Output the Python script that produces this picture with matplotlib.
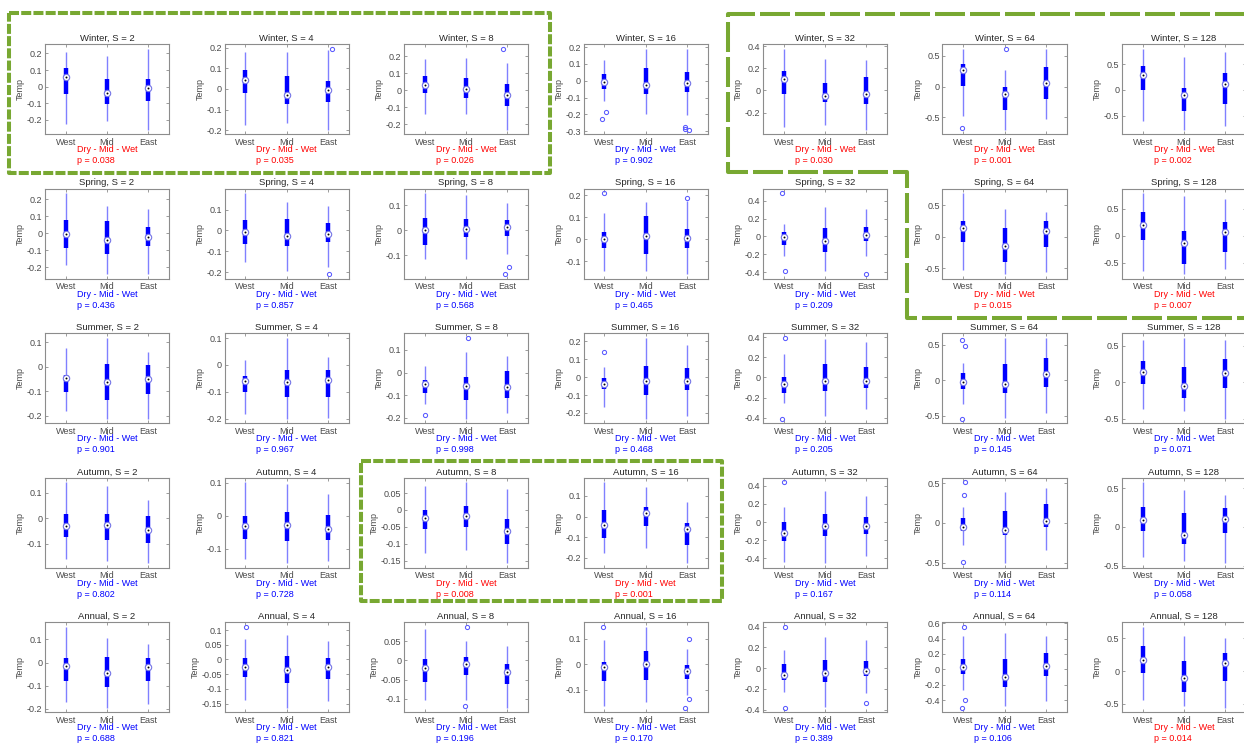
import matplotlib
matplotlib.use("Agg")
import matplotlib.pyplot as plt
from matplotlib.lines import Line2D
from matplotlib.ticker import MultipleLocator, FuncFormatter

plt.rcParams["font.family"] = ["Liberation Sans", "DejaVu Sans"]
plt.rcParams["axes.unicode_minus"] = False
plt.rcParams["lines.scale_dashes"] = False

seasons = ["Winter", "Spring", "Summer", "Autumn", "Annual"]
scales = [2, 4, 8, 16, 32, 64, 128]
regions = ["West", "Mid", "East"]

# (whisker low, q1, median, q3, whisker high) for West, Mid, East, one entry per S
winter_stats = [
    [(-0.224, -0.044, 0.056, 0.114, 0.21), (-0.204, -0.106, -0.036, 0.044, 0.184), (-0.26, -0.088, -0.01, 0.048, 0.228)],
    [(-0.173, -0.018, 0.042, 0.09, 0.177), (-0.165, -0.073, -0.027, 0.065, 0.177), (-0.198, -0.061, -0.006, 0.039, 0.187)],
    [(-0.14, -0.016, 0.033, 0.083, 0.18), (-0.14, -0.045, 0.004, 0.07, 0.19), (-0.233, -0.093, -0.031, 0.035, 0.161)],
    [(-0.121, -0.05, -0.008, 0.042, 0.122), (-0.196, -0.078, -0.023, 0.076, 0.19), (-0.206, -0.07, -0.014, 0.05, 0.186)],
    [(-0.325, -0.033, 0.099, 0.173, 0.376), (-0.313, -0.1, -0.051, 0.069, 0.284), (-0.355, -0.122, -0.036, 0.125, 0.272)],
    [(-0.468, 0.005, 0.263, 0.36, 0.613), (-0.7, -0.376, -0.113, -0.011, 0.263), (-0.527, -0.204, 0.059, 0.317, 0.608)],
    [(-0.597, -0.006, 0.286, 0.474, 0.805), (-0.779, -0.409, -0.104, 0.032, 0.636), (-0.701, -0.273, 0.11, 0.338, 0.74)],
]
spring_stats = [
    [(-0.187, -0.085, -0.004, 0.077, 0.234), (-0.24, -0.123, -0.038, 0.072, 0.162), (-0.24, -0.074, -0.023, 0.038, 0.143)],
    [(-0.152, -0.066, -0.01, 0.048, 0.178), (-0.193, -0.074, -0.026, 0.053, 0.135), (-0.175, -0.057, -0.019, 0.037, 0.115)],
    [(-0.115, -0.058, 0.0, 0.05, 0.149), (-0.115, -0.028, 0.003, 0.047, 0.14), (-0.096, -0.025, 0.012, 0.041, 0.111)],
    [(-0.147, -0.04, 0.0, 0.031, 0.119), (-0.147, -0.069, 0.017, 0.107, 0.169), (-0.16, -0.04, 0.005, 0.046, 0.175)],
    [(-0.223, -0.093, -0.012, 0.049, 0.142), (-0.385, -0.17, -0.057, 0.089, 0.329), (-0.219, -0.057, 0.016, 0.105, 0.306)],
    [(-0.531, -0.08, 0.131, 0.251, 0.686), (-0.594, -0.4, -0.149, 0.143, 0.434), (-0.56, -0.16, 0.091, 0.251, 0.383)],
    [(-0.651, -0.087, 0.201, 0.43, 0.785), (-0.718, -0.523, -0.141, 0.094, 0.725), (-0.624, -0.295, 0.074, 0.255, 0.671)],
]
summer_stats = [
    [(-0.179, -0.104, -0.045, -0.033, 0.076), (-0.212, -0.136, -0.06, 0.012, 0.119), (-0.212, -0.11, -0.051, 0.006, 0.06)],
    [(-0.182, -0.1, -0.059, -0.04, 0.02), (-0.2, -0.118, -0.063, -0.017, 0.101), (-0.197, -0.118, -0.055, -0.02, 0.028)],
    [(-0.141, -0.089, -0.051, -0.031, 0.029), (-0.205, -0.122, -0.059, -0.018, 0.092), (-0.178, -0.112, -0.064, 0.008, 0.075)],
    [(-0.165, -0.069, -0.039, -0.004, 0.059), (-0.233, -0.098, -0.024, 0.061, 0.22), (-0.216, -0.071, -0.02, 0.053, 0.182)],
    [(-0.249, -0.151, -0.068, 0.004, 0.234), (-0.382, -0.133, -0.032, 0.137, 0.382), (-0.31, -0.105, -0.04, 0.108, 0.35)],
    [(-0.332, -0.128, -0.031, 0.102, 0.245), (-0.536, -0.184, -0.061, 0.224, 0.597), (-0.469, -0.092, 0.082, 0.311, 0.597)],
    [(-0.362, -0.025, 0.141, 0.291, 0.583), (-0.397, -0.216, -0.055, 0.216, 0.613), (-0.5, -0.07, 0.131, 0.317, 0.578)],
]
autumn_stats = [
    [(-0.16, -0.072, -0.029, 0.016, 0.141), (-0.168, -0.085, -0.026, 0.016, 0.125), (-0.177, -0.096, -0.047, 0.01, 0.072)],
    [(-0.131, -0.071, -0.031, -0.002, 0.102), (-0.145, -0.076, -0.027, 0.011, 0.097), (-0.137, -0.073, -0.04, 0.001, 0.067)],
    [(-0.128, -0.056, -0.025, -0.001, 0.072), (-0.119, -0.05, -0.017, 0.011, 0.082), (-0.158, -0.1, -0.061, -0.028, 0.062)],
    [(-0.175, -0.102, -0.041, 0.034, 0.166), (-0.152, -0.044, 0.019, 0.046, 0.145), (-0.226, -0.136, -0.058, -0.03, 0.069)],
    [(-0.44, -0.212, -0.124, 0.004, 0.172), (-0.456, -0.152, -0.044, 0.084, 0.348), (-0.38, -0.132, -0.044, 0.052, 0.292)],
    [(-0.279, -0.105, -0.05, 0.068, 0.196), (-0.507, -0.155, -0.087, 0.146, 0.388), (-0.342, -0.05, 0.023, 0.237, 0.438)],
    [(-0.384, -0.056, 0.088, 0.264, 0.579), (-0.444, -0.222, -0.102, 0.181, 0.481), (-0.472, -0.079, 0.097, 0.25, 0.412)],
]
annual_stats = [
    [(-0.172, -0.078, -0.017, 0.02, 0.155), (-0.196, -0.107, -0.044, 0.024, 0.107), (-0.179, -0.081, -0.02, 0.02, 0.08)],
    [(-0.138, -0.061, -0.025, 0.006, 0.07), (-0.164, -0.08, -0.035, 0.011, 0.083), (-0.14, -0.067, -0.024, 0.006, 0.063)],
    [(-0.102, -0.055, -0.021, 0.003, 0.081), (-0.103, -0.039, -0.01, 0.008, 0.05), (-0.123, -0.061, -0.031, -0.01, 0.036)],
    [(-0.165, -0.067, -0.012, 0.01, 0.094), (-0.15, -0.062, 0.0, 0.05, 0.147), (-0.119, -0.057, -0.028, -0.004, 0.058)],
    [(-0.227, -0.111, -0.066, 0.044, 0.177), (-0.373, -0.133, -0.047, 0.082, 0.3), (-0.243, -0.079, -0.022, 0.066, 0.275)],
    [(-0.262, -0.055, 0.03, 0.14, 0.435), (-0.474, -0.224, -0.093, 0.14, 0.469), (-0.41, -0.08, 0.047, 0.215, 0.431)],
    [(-0.45, -0.035, 0.165, 0.38, 0.68), (-0.53, -0.325, -0.1, 0.155, 0.54), (-0.565, -0.15, 0.125, 0.275, 0.51)],
]

# outliers: (value, small horizontal jitter) per region
winter_out = [
    [[], [], []],
    [[], [], [(0.195, 0.1)]],
    [[], [], [(0.243, -0.1)]],
    [[(-0.227, -0.05), (-0.185, 0.05)], [], [(-0.274, -0.05), (-0.287, -0.05), (-0.292, 0.06)]],
    [[], [], []],
    [[(-0.672, -0.04)], [(0.613, 0.03)], []],
    [[], [], []],
]
spring_out = [
    [[], [], []],
    [[], [], [(-0.211, 0.04)]],
    [[], [], [(-0.178, -0.05), (-0.149, 0.05)]],
    [[(0.21, 0.0)], [], [(0.188, 0.0)]],
    [[(0.483, -0.04), (-0.39, 0.04)], [], [(-0.426, 0.0)]],
    [[], [], []],
    [[], [], []],
]
summer_out = [
    [[], [], []],
    [[], [], []],
    [[(-0.188, 0.0)], [(0.154, 0.04)], []],
    [[(0.141, 0.0)], [], []],
    [[(0.393, 0.03), (-0.411, -0.04)], [], []],
    [[(0.561, -0.04), (0.485, 0.05), (-0.546, -0.02)], [], []],
    [[], [], []],
]
autumn_out = [
    [[], [], []],
    [[], [], []],
    [[], [], []],
    [[], [], []],
    [[(0.44, 0.0)], [], []],
    [[(0.511, 0.05), (0.356, 0.03), (-0.489, 0.0)], [], []],
    [[], [], []],
]
annual_out = [
    [[], [], []],
    [[(0.111, 0.03)], [], []],
    [[], [(0.087, 0.03), (-0.118, -0.03)], []],
    [[(0.145, -0.04)], [], [(0.1, 0.05), (-0.137, 0.05), (-0.171, -0.05)]],
    [[(0.4, 0.03), (-0.382, 0.04)], [], [(-0.338, 0.0)]],
    [[(0.554, 0.03), (-0.402, 0.04), (-0.5, -0.04)], [], []],
    [[], [], []],
]

winter_p = [0.038, 0.035, 0.026, 0.902, 0.030, 0.001, 0.002]
spring_p = [0.436, 0.857, 0.568, 0.465, 0.209, 0.015, 0.007]
summer_p = [0.901, 0.967, 0.998, 0.468, 0.205, 0.145, 0.071]
autumn_p = [0.802, 0.728, 0.008, 0.001, 0.167, 0.114, 0.058]
annual_p = [0.688, 0.821, 0.196, 0.170, 0.389, 0.106, 0.014]

# y tick spacing per panel
winter_step = [0.1, 0.1, 0.1, 0.1, 0.2, 0.5, 0.5]
spring_step = [0.1, 0.1, 0.1, 0.1, 0.2, 0.5, 0.5]
summer_step = [0.1, 0.1, 0.1, 0.1, 0.2, 0.5, 0.5]
autumn_step = [0.1, 0.1, 0.05, 0.1, 0.2, 0.5, 0.5]
annual_step = [0.1, 0.05, 0.05, 0.1, 0.2, 0.2, 0.5]

all_stats = [winter_stats, spring_stats, summer_stats, autumn_stats, annual_stats]
all_out = [winter_out, spring_out, summer_out, autumn_out, annual_out]
all_p = [winter_p, spring_p, summer_p, autumn_p, annual_p]
all_step = [winter_step, spring_step, summer_step, autumn_step, annual_step]

W, H = 1244, 747
fig = plt.figure(figsize=(W / 100, H / 100), dpi=100)

col_left = [45 + 179.5 * i for i in range(7)]
row_top = [44.3 + 144.5 * j for j in range(5)]
ax_w, ax_h = 124, 90

box_c = "#0000ff"
whisk_c = "#8080ff"
frame_c = "#8c8c8c"
fs = 6.5


def fmt(v, pos):
    v = round(v, 6)
    if abs(v) < 1e-9:
        return "0"
    return f"{v:g}"


for r, season in enumerate(seasons):
    for c, s in enumerate(scales):
        l = col_left[c] / W
        b = 1 - (row_top[r] + ax_h) / H
        ax = fig.add_axes([l, b, ax_w / W, ax_h / H])
        stats = all_stats[r][c]
        outs = all_out[r][c]

        vals = []
        for k in range(3):
            lo, q1, med, q3, hi = stats[k]
            x = k + 1
            ax.plot([x, x], [lo, hi], color=whisk_c, lw=1.0, solid_capstyle="butt", zorder=2)
            ax.plot([x, x], [q1, q3], color=box_c, lw=3.2, solid_capstyle="butt", zorder=3)
            ax.plot(x, med, "o", ms=4.6, mfc="white", mec="#7575e6", mew=0.8, zorder=4)
            ax.plot(x, med, "o", ms=1.4, color="black", mew=0, zorder=5)
            vals += [lo, hi]
            for v, jit in outs[k]:
                ax.plot(x + jit, v, "o", ms=3.0, mfc="none", mec="#5a5aff", mew=0.75, zorder=4)
                vals.append(v)

        lo_all, hi_all = min(vals), max(vals)
        pad = 0.055 * (hi_all - lo_all)
        ax.set_ylim(lo_all - pad, hi_all + pad)
        ax.set_xlim(0.5, 3.5)
        ax.yaxis.set_major_locator(MultipleLocator(all_step[r][c]))
        ax.yaxis.set_major_formatter(FuncFormatter(fmt))
        ax.set_xticks([1, 2, 3])
        ax.set_xticklabels(regions)

        ax.tick_params(direction="in", length=2, width=0.6, color=frame_c,
                       labelsize=fs, labelcolor="#4a4a4a", top=True, right=True)
        ax.tick_params(axis="x", pad=2.5)
        ax.tick_params(axis="y", pad=1.8)
        for sp in ax.spines.values():
            sp.set_color(frame_c)
            sp.set_linewidth(0.8)

        ax.set_title(f"{season}, S = {s}", fontsize=6.8, color="#262626", pad=2.5)
        ax.set_ylabel("Temp", fontsize=fs, color="#4a4a4a", labelpad=1.5)

        p = all_p[r][c]
        pc = "#ff0000" if p < 0.05 else "#0000ff"
        ax.annotate(f"Dry - Mid - Wet\np = {p:.3f}", xy=(0.5, 0), xycoords="axes fraction",
                    xytext=(0, -8.0), textcoords="offset points", ha="center", va="top",
                    multialignment="left", linespacing=1.25, fontsize=fs, color=pc)

# green dashed highlight frames (pixel coordinates of the picture)
green = "#78a832"


def frame(xs, ys, dashes):
    fig.add_artist(Line2D([x / W for x in xs], [1 - y / H for y in ys],
                          transform=fig.transFigure, color=green, lw=2.9,
                          dashes=dashes, solid_capstyle="butt", dash_capstyle="butt"))


frame([9.3, 550, 550, 9.3, 9.3], [13.3, 13.3, 173.3, 173.3, 13.3], (7.2, 1.6))
frame([360.7, 722, 722, 360.7, 360.7], [461, 461, 601, 601, 461], (7.2, 1.6))
frame([1250, 728, 728, 906.7, 906.7, 1250], [14, 14, 172, 172, 318, 318], (21.6, 3.6))

fig.savefig("out.png", dpi=100)
